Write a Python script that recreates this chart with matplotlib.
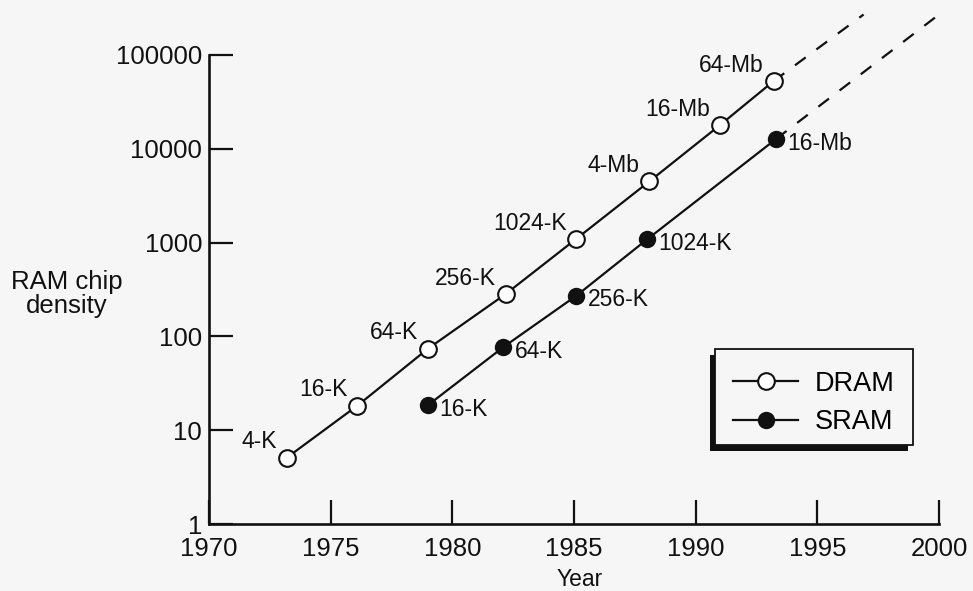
import matplotlib
matplotlib.use("Agg")
import matplotlib.pyplot as plt
from matplotlib.patches import Rectangle

# ---------------- data ----------------
dram_years = [1973.2, 1976.1, 1979.0, 1982.2, 1985.1, 1988.1, 1991.0, 1993.2]
dram_density = [5.1, 18.3, 74, 284, 1100, 4500, 17900, 52600]
dram_labels = ["4-K", "16-K", "64-K", "256-K", "1024-K", "4-Mb", "16-Mb", "64-Mb"]

sram_years = [1979.0, 1982.1, 1985.1, 1988.0, 1993.3]
sram_density = [18.5, 77, 272, 1080, 12700]
sram_labels = ["16-K", "64-K", "256-K", "1024-K", "16-Mb"]

# projected (dashed) trends
dram_proj_years = [1993.2, 1996.9]
dram_proj_density = [52600, 270000]
sram_proj_years = [1993.3, 2000.0]
sram_proj_density = [12700, 270000]

xticks = [1970, 1975, 1980, 1985, 1990, 1995, 2000]
yticks = [1, 10, 100, 1000, 10000, 100000]
ytick_labels = ["1", "10", "100", "1000", "10000", "100000"]

# ---------------- style ----------------
BG = "#f6f6f6"
INK = "#111111"
plt.rcParams["font.family"] = ["Liberation Sans", "DejaVu Sans"]

FW, FH = 973, 591
fig = plt.figure(figsize=(FW/100, FH/100), dpi=100, facecolor=BG)
ax = fig.add_axes([209/FW, 1-524/FH, 730/FW, 469/FH])
ax.set_facecolor(BG)

ax.set_yscale("log")
ax.set_xlim(1970, 2000)
ax.set_ylim(1, 100000)

for s in ["top", "right"]:
    ax.spines[s].set_visible(False)
for s in ["left", "bottom"]:
    ax.spines[s].set_linewidth(1.9)
    ax.spines[s].set_color(INK)

ax.set_xticks(xticks)
ax.set_xticklabels([str(x) for x in xticks])
ax.set_yticks(yticks)
ax.set_yticklabels(ytick_labels)
ax.yaxis.set_minor_locator(matplotlib.ticker.NullLocator())
ax.tick_params(axis="both", which="major", direction="in", length=17,
               width=1.6, color=INK, labelsize=18.5, labelcolor=INK)
ax.tick_params(axis="y", pad=5)
ax.tick_params(axis="x", pad=9)

# lines
lw = 1.6
ax.plot(dram_years, dram_density, color=INK, lw=lw, marker="o", ms=12,
        mfc="white", mec=INK, mew=1.5, label="DRAM", zorder=3)
ax.plot(sram_years, sram_density, color=INK, lw=lw, marker="o", ms=11,
        mfc=INK, mec=INK, mew=1.5, label="SRAM", zorder=3)
ax.plot(dram_proj_years, dram_proj_density, color=INK, lw=lw,
        linestyle=(0, (6, 6)), clip_on=False, zorder=2)
ax.plot(sram_proj_years, sram_proj_density, color=INK, lw=lw,
        linestyle=(0, (6, 6)), clip_on=False, zorder=2)

# point labels
for x, y, t in zip(dram_years, dram_density, dram_labels):
    ax.annotate(t, (x, y), xytext=(-7, 3), textcoords="offset points",
                ha="right", va="bottom", fontsize=16.5, color=INK)
for x, y, t in zip(sram_years, sram_density, sram_labels):
    ax.annotate(t, (x, y), xytext=(8, -3), textcoords="offset points",
                ha="left", va="center", fontsize=16.5, color=INK)

# axis labels
fig.text(67/FW, 1-294/FH, "RAM chip\ndensity", ha="center", va="center",
         fontsize=18.5, color=INK, linespacing=0.95)
fig.text(580/FW, 1-579/FH, "Year", ha="center", va="center",
         fontsize=16.5, color=INK)

# legend: frame + shadow drawn as boxes, entries from the lines
bx0, by0, bx1, by1 = 715, 349, 913, 445   # frame in pixels (top-left origin)
shadow = Rectangle(((bx0-5)/FW, 1-(by1+6)/FH), (bx1-bx0)/FW, (by1-by0)/FH,
                   transform=fig.transFigure, facecolor=INK, edgecolor="none",
                   clip_on=False, zorder=5)
frame = Rectangle((bx0/FW, 1-by1/FH), (bx1-bx0)/FW, (by1-by0)/FH,
                  transform=fig.transFigure, facecolor=BG, edgecolor=INK,
                  lw=1.3, clip_on=False, zorder=5.5)
ax.add_patch(shadow)
ax.add_patch(frame)

leg = ax.legend(loc="center left",
                bbox_to_anchor=((733-209)/730, (524-403)/469),
                borderaxespad=0, borderpad=0, frameon=False, fontsize=19.5,
                handlelength=2.4, handletextpad=0.62, labelspacing=0.45)
leg.set_zorder(6)

fig.savefig("out.png", dpi=100, facecolor=BG)
